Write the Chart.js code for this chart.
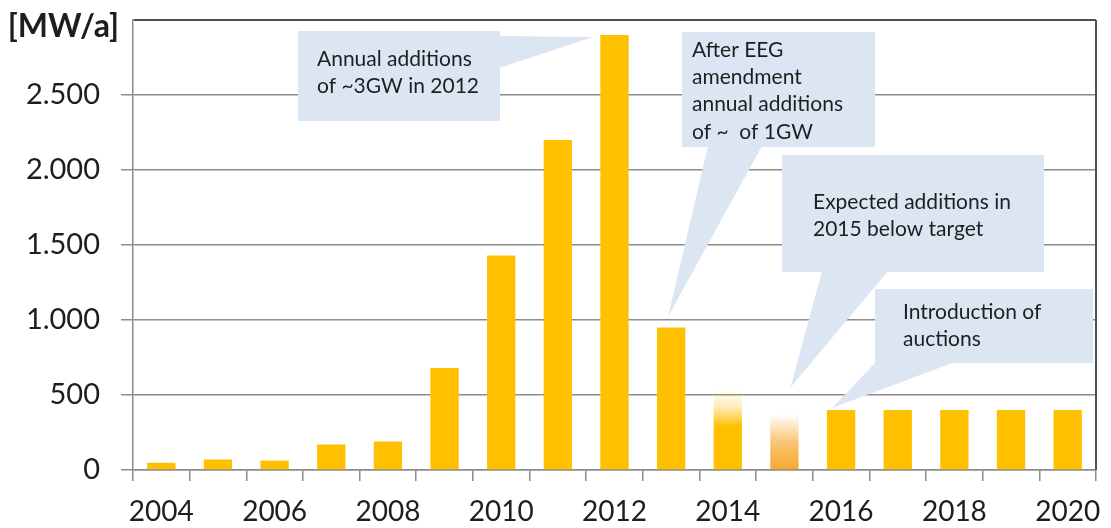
<!DOCTYPE html>
<html>
<head>
<meta charset="utf-8">
<script src="https://cdn.jsdelivr.net/npm/chart.js@4.4.0/dist/chart.umd.min.js"></script>
<style>
  html, body { margin: 0; padding: 0; background: #fff; }
  #wrap { width: 1111px; height: 528px; }
</style>
</head>
<body>
<div id="wrap"><canvas id="pvChart" width="1111" height="528"></canvas></div>
<script>
// data (MW per year)
const years = ['2004', '2005', '2006', '2007', '2008', '2009', '2010', '2011', '2012',
               '2013', '2014', '2015', '2016', '2017', '2018', '2019', '2020'];
const additions = [48, 70, 63, 170, 190, 680, 1430, 2200, 2900, 950, 530, 370, 400, 400, 400, 400, 400];
const yTicks = [0, 500, 1000, 1500, 2000, 2500, 3000];
const unitLabel = '[MW/a]';

const noteTexts = [
    ['Annual additions', 'of ~3GW in 2012'],
    ['After EEG', 'amendment', 'annual additions', 'of ~  of 1GW'],
    ['Expected additions in', '2015 below target'],
    ['Introduction of', 'auctions']
];
const noteYears = ['2012', '2013', '2015', '2016'];

// look
const barColor = '#FFC000';
const gridColor = '#8c8c8c';
const frameColor = '#505050';
const textColor = '#1e1e1e';
const noteColor = '#DCE6F2';
const fontFamily = 'Lato, "Open Sans", sans-serif';

function fmt(v) {
    return String(v).replace(/\B(?=(\d{3})+(?!\d))/g, '.');
}

function barFill(context) {
    const chart = context.chart;
    const i = context.dataIndex;
    const y = chart.scales.y;
    if (!chart.chartArea || !y) return barColor;
    const top = y.getPixelForValue(additions[i]);
    const bottom = y.getPixelForValue(0);
    if (years[i] === '2014') {
        const g = chart.ctx.createLinearGradient(0, top, 0, bottom);
        g.addColorStop(0, 'rgba(255,192,0,0.03)');
        g.addColorStop(0.2, 'rgba(255,196,40,0.3)');
        g.addColorStop(0.45, 'rgba(255,192,0,1)');
        g.addColorStop(1, 'rgba(255,192,0,1)');
        return g;
    }
    if (years[i] === '2015') {
        const g = chart.ctx.createLinearGradient(0, top, 0, bottom);
        g.addColorStop(0, 'rgba(248,170,50,0)');
        g.addColorStop(0.5, 'rgba(248,172,55,0.7)');
        g.addColorStop(1, 'rgba(247,166,45,1)');
        return g;
    }
    return barColor;
}

// callout boxes: rectangle, pointer base on its edge, tip offset from the bar top
const callouts = [
    { box: [298, 31, 202, 90], base: [[499, 36], [499, 68]], tip: [-22, 2], text: [317, 59] },
    { box: [682, 32, 193, 115], base: [[708, 146], [762, 146]], tip: [-3, -11], text: [692, 50] },
    { box: [782, 155, 262, 117], base: [[822, 271], [888, 271]], tip: [6, -27], text: [813, 202] },
    { box: [875, 289, 218, 74], base: [[876, 362], [955, 362]], tip: [-9, -2], text: [903, 312] }
];

const calloutPlugin = {
    id: 'callouts',
    afterDatasetsDraw(chart) {
        const ctx = chart.ctx;
        const xs = chart.scales.x, ys = chart.scales.y;
        ctx.save();
        callouts.forEach((c, k) => {
            const i = years.indexOf(noteYears[k]);
            const tx = xs.getPixelForValue(i) + c.tip[0];
            const ty = ys.getPixelForValue(additions[i]) + c.tip[1];
            ctx.fillStyle = noteColor;
            ctx.fillRect(c.box[0], c.box[1], c.box[2], c.box[3]);
            ctx.beginPath();
            ctx.moveTo(c.base[0][0], c.base[0][1]);
            ctx.lineTo(c.base[1][0], c.base[1][1]);
            ctx.lineTo(tx, ty);
            ctx.closePath();
            ctx.fill();
            ctx.fillStyle = textColor;
            ctx.font = '21px ' + fontFamily;
            ctx.textAlign = 'left';
            ctx.textBaseline = 'middle';
            noteTexts[k].forEach((line, j) => {
                ctx.fillText(line, c.text[0], c.text[1] + j * 27.3);
            });
        });
        ctx.restore();
    },
    afterDraw(chart) {
        const ctx = chart.ctx;
        const a = chart.chartArea;
        ctx.save();
        ctx.strokeStyle = frameColor;
        ctx.lineWidth = 2;
        ctx.beginPath();
        ctx.moveTo(a.right, a.top);
        ctx.lineTo(a.right, a.bottom);
        ctx.stroke();
        ctx.fillStyle = textColor;
        ctx.font = 'bold 32px ' + fontFamily;
        ctx.textAlign = 'right';
        ctx.textBaseline = 'middle';
        ctx.fillText(unitLabel, 119, 27);
        ctx.restore();
    }
};

new Chart(document.getElementById('pvChart').getContext('2d'), {
    type: 'bar',
    data: {
        labels: years,
        datasets: [{
            data: additions,
            backgroundColor: barFill,
            borderWidth: 0,
            barPercentage: 0.5,
            categoryPercentage: 1.0
        }]
    },
    options: {
        responsive: false,
        animation: false,
        layout: { padding: { top: 20, right: 15, left: 0, bottom: 0 } },
        plugins: {
            legend: { display: false },
            tooltip: { enabled: false }
        },
        scales: {
            x: {
                grid: {
                    offset: true,
                    drawOnChartArea: false,
                    tickLength: 11,
                    color: gridColor,
                    lineWidth: 1.5
                },
                border: { color: gridColor, width: 1.5 },
                ticks: {
                    autoSkip: false,
                    maxRotation: 0,
                    padding: 14,
                    color: textColor,
                    font: { family: fontFamily, size: 28 },
                    callback: (v, i) => (i % 2 === 0 ? years[i] : '')
                },
                afterFit: s => {
                    s.height = 58;
                    s.paddingLeft = 0;
                    s.paddingRight = 0;
                }
            },
            y: {
                min: 0,
                max: 3000,
                afterBuildTicks: s => { s.ticks = yTicks.map(v => ({ value: v })); },
                grid: {
                    color: c => (c.tick && c.tick.value === 3000 ? frameColor : gridColor),
                    tickColor: c => (c.tick && c.tick.value === 3000 ? 'rgba(0,0,0,0)' : gridColor),
                    lineWidth: c => (c.tick && c.tick.value === 3000 ? 2 : 1.5),
                    tickLength: 12
                },
                border: { color: gridColor, width: 1.5 },
                ticks: {
                    padding: 21,
                    color: textColor,
                    font: { family: fontFamily, size: 29 },
                    callback: v => (v === 3000 ? '' : fmt(v))
                },
                afterFit: s => {
                    s.width = 133;
                    s.paddingTop = 0;
                    s.paddingBottom = 0;
                }
            }
        }
    },
    plugins: [calloutPlugin]
});
</script>
</body>
</html>
